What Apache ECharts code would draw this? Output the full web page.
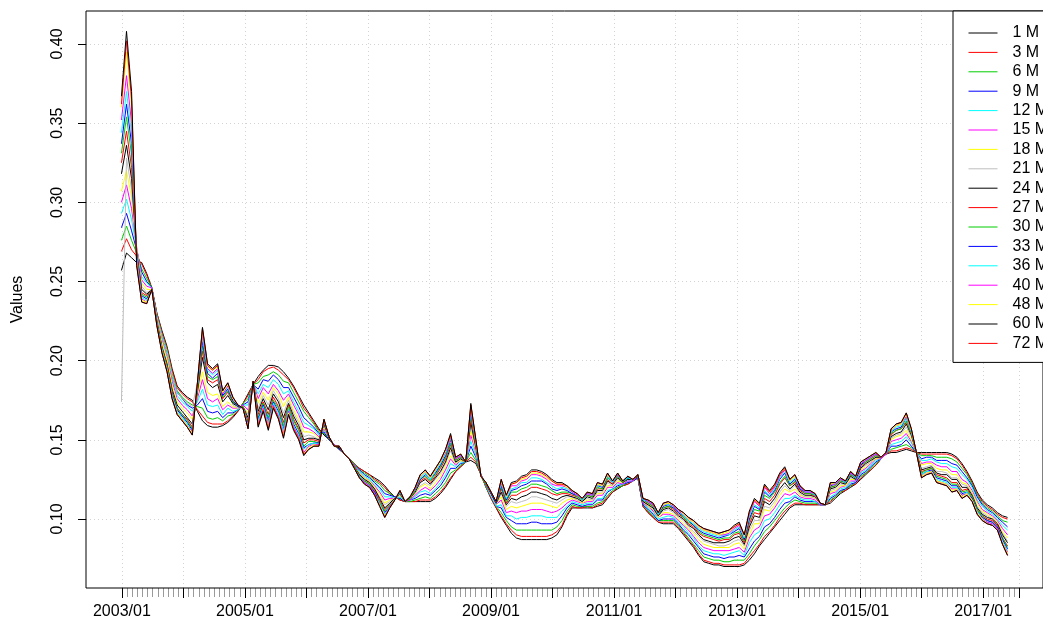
<!DOCTYPE html>
<html>
<head>
<meta charset="utf-8">
<script src="https://cdn.jsdelivr.net/npm/echarts@6.0.0/dist/echarts.min.js"></script>
<style>
html, body { margin: 0; padding: 0; background: #fff; }
#chart { width: 1043px; height: 625px; }
</style>
</head>
<body>
<div id="chart"></div>
<script>
// Monthly values from 2003/01 to 2017/08, stored in thousandths (one row per year).
const m1 = [
  257,268,265,262,262,255,246,230,219,209,195,184,
  180,177,175,168,162,159,158,158,159,161,164,168,
  173,179,185,190,194,197,197,196,193,189,184,178,
  172,167,162,157,153,150,147,144,141,138,135,132,
  130,128,126,124,121,117,114,112,111,111,111,111,
  111,111,113,116,120,125,130,133,136,137,135,128,
  120,113,107,101,96,91,88,87,87,87,87,87,
  87,88,90,95,102,107,107,107,107,107,108,109,
  113,117,119,121,122,124,126,108,104,101,98,97,
  97,97,94,90,86,82,77,73,72,71,71,70,
  70,70,70,71,74,78,83,87,91,95,99,103,
  107,109,109,109,109,109,109,109,110,113,116,118,
  120,122,125,128,131,134,138,141,142,142,143,144,
  143,142,142,142,142,142,142,142,141,139,135,130,
  124,117,112,109,107,104,102,101
];
const m3 = [
  269,277,270,266,261,254,246,230,218,208,194,183,
  179,176,174,169,165,161,160,160,160,162,165,168,
  173,178,185,188,193,195,196,194,191,188,183,177,
  170,166,161,156,154,150,147,144,141,138,135,132,
  130,128,125,123,120,116,114,112,111,111,111,112,
  112,112,114,117,121,126,130,133,136,139,136,128,
  120,113,107,102,97,93,90,89,89,89,89,89,
  89,90,92,96,103,108,107,107,108,107,109,110,
  114,117,120,121,122,124,126,108,104,101,98,98,
  98,98,95,91,87,83,78,74,73,72,72,71,
  71,71,71,72,76,80,84,89,92,96,101,105,
  108,110,110,109,109,109,109,109,111,114,117,118,
  121,122,126,129,131,134,138,141,143,143,144,145,
  144,142,141,141,141,141,141,141,140,138,134,129,
  123,116,111,108,106,103,101,100
];
const m6 = [
  276,285,276,268,258,252,246,229,217,207,192,181,
  177,174,172,171,170,164,163,164,162,165,166,169,
  173,176,185,186,190,191,193,191,187,186,180,174,
  168,164,160,155,154,150,147,144,141,138,135,131,
  129,127,124,122,118,116,114,113,111,111,112,113,
  114,113,116,119,123,129,131,134,136,142,137,128,
  120,114,108,104,99,95,93,93,93,93,93,93,
  93,93,95,99,105,109,108,108,108,108,110,111,
  115,118,120,121,123,124,126,109,105,102,99,99,
  99,99,96,92,88,84,80,76,75,74,74,73,
  73,74,74,74,78,83,87,92,95,99,103,107,
  110,112,111,110,110,110,109,109,112,114,117,119,
  121,123,127,129,132,135,138,141,144,145,146,147,
  145,142,140,140,140,139,139,139,138,136,132,128,
  122,115,110,107,105,102,99,98
];
const m9 = [
  284,293,282,270,256,250,246,228,216,205,190,180,
  176,172,170,172,176,168,167,168,164,167,167,169,
  172,174,185,182,188,187,191,188,183,183,177,171,
  164,161,158,154,155,150,147,144,141,138,134,131,
  128,126,123,120,116,115,114,113,111,112,113,115,
  116,115,118,121,126,132,132,135,136,146,139,128,
  121,114,108,107,101,99,97,97,97,98,98,97,
  97,97,98,102,107,110,109,108,109,109,112,112,
  117,119,121,122,123,124,126,109,106,103,99,100,
  100,100,97,93,90,86,82,78,77,76,76,75,
  76,76,77,76,81,86,89,95,97,101,106,110,
  111,114,112,111,111,111,109,109,113,115,118,119,
  122,123,128,130,133,136,138,141,146,146,147,150,
  146,142,138,139,139,137,137,137,135,134,130,126,
  121,114,109,106,104,101,98,95
];
const m12 = [
  293,302,289,271,253,249,246,227,214,204,189,178,
  174,171,168,174,182,172,171,172,166,170,168,169,
  172,172,186,179,185,183,188,185,179,181,174,168,
  161,159,157,153,156,151,147,145,141,138,134,130,
  127,125,122,119,114,114,113,114,111,112,114,117,
  118,116,119,123,128,135,133,136,136,149,140,128,
  121,114,108,109,102,102,100,101,101,102,102,102,
  101,101,101,105,108,111,110,109,110,110,113,113,
  118,119,122,122,124,124,127,110,107,104,100,101,
  102,101,98,95,91,88,83,80,79,78,78,77,
  78,79,80,77,85,90,92,99,100,104,109,113,
  113,115,113,112,112,111,109,109,114,116,119,120,
  123,124,129,131,134,137,138,141,147,148,149,152,
  148,142,137,137,138,136,135,135,133,132,128,125,
  120,112,108,105,103,100,96,93
];
const m15 = [
  300,311,296,272,251,247,246,226,213,202,187,176,
  172,169,165,176,188,176,174,176,169,172,170,170,
  172,169,186,176,183,179,185,181,175,179,172,166,
  158,157,155,152,157,151,147,145,141,138,134,129,
  126,124,121,117,112,113,113,115,111,112,115,118,
  120,118,121,125,131,138,134,137,136,153,142,128,
  121,115,109,112,104,105,104,105,105,106,106,106,
  105,104,105,107,110,112,111,110,111,111,115,115,
  120,120,123,122,124,124,127,110,108,105,101,103,
  103,102,99,96,93,89,85,82,81,80,80,80,
  80,81,82,79,88,93,95,102,103,107,112,116,
  115,117,114,113,113,112,109,109,116,117,120,121,
  124,124,130,132,135,138,138,141,149,150,151,154,
  149,142,135,136,136,134,133,133,130,130,125,123,
  118,111,106,104,102,99,94,90
];
const m18 = [
  307,320,303,271,249,245,245,226,212,201,185,174,
  170,167,163,178,193,180,178,179,171,174,171,170,
  171,167,186,173,180,175,183,179,171,177,169,163,
  155,155,154,151,158,151,146,145,141,138,133,129,
  126,124,120,116,110,112,113,115,111,113,116,120,
  122,119,123,127,133,140,135,137,136,156,143,127,
  122,115,109,114,106,108,107,108,109,110,110,110,
  109,108,107,110,112,113,112,110,112,112,116,116,
  121,121,124,123,125,125,127,111,108,106,101,104,
  104,103,100,97,94,91,87,84,83,82,82,82,
  82,84,85,81,90,97,97,106,105,109,115,119,
  117,119,115,114,114,113,110,109,117,118,121,121,
  125,125,131,133,136,138,139,142,150,152,153,156,
  150,142,134,135,135,132,131,131,128,128,123,122,
  117,110,105,103,101,98,92,88
];
const m21 = [
  174,328,308,270,247,243,245,228,216,206,191,180,
  176,173,171,186,221,198,195,198,181,186,172,170,
  171,166,186,170,178,172,181,176,167,175,167,161,
  152,153,152,150,159,151,146,145,141,138,133,128,
  125,123,119,114,109,111,113,116,111,113,116,121,
  123,121,125,129,135,143,135,138,136,159,144,127,
  122,115,109,116,108,111,110,111,112,114,114,113,
  112,111,110,112,114,114,112,111,113,112,117,117,
  123,121,125,123,125,125,127,111,109,106,102,105,
  106,104,101,99,95,92,89,86,85,84,83,83,
  84,86,87,83,93,99,99,108,107,111,117,121,
  118,121,116,114,114,113,110,109,118,119,122,122,
  126,125,132,134,136,139,139,142,151,153,154,158,
  152,142,132,133,134,130,130,129,126,126,122,121,
  116,108,104,102,100,97,91,86
];
const m24 = [
  318,336,315,269,245,242,245,225,209,198,182,172,
  168,164,160,180,202,186,183,185,174,178,173,171,
  171,164,186,168,176,169,179,174,164,173,165,159,
  150,151,151,150,160,151,146,145,141,138,133,128,
  125,123,119,113,107,110,113,116,111,113,117,123,
  125,122,126,130,136,145,136,138,136,161,145,127,
  122,116,110,117,109,113,112,114,115,117,117,116,
  115,113,112,114,115,114,113,111,114,113,118,118,
  124,122,126,123,125,125,127,111,109,107,102,106,
  107,105,102,100,96,94,90,87,86,85,85,85,
  86,88,89,84,95,102,101,111,109,113,119,123,
  119,122,117,115,115,114,110,109,119,120,123,122,
  127,125,132,135,137,139,139,142,152,154,155,160,
  153,142,131,132,133,129,128,128,125,125,120,120,
  115,107,103,101,100,97,90,85
];
const m27 = [
  325,345,322,268,243,241,245,224,208,197,181,170,
  166,163,158,182,206,188,186,188,176,180,174,171,
  171,162,187,166,174,166,177,171,161,172,163,157,
  148,150,150,149,161,152,146,146,141,138,133,127,
  124,122,118,112,106,109,112,117,111,113,118,124,
  126,123,127,132,138,147,137,139,136,164,146,127,
  122,116,110,119,110,115,115,117,118,120,120,119,
  118,116,115,116,116,115,114,112,115,114,119,119,
  125,122,127,123,126,125,128,112,110,108,103,107,
  108,106,103,101,97,95,91,89,88,87,86,87,
  87,90,91,85,97,104,103,113,111,115,122,126,
  121,123,118,116,116,114,110,109,120,121,124,123,
  128,126,133,136,138,140,139,142,153,156,157,161,
  154,142,130,131,132,128,127,126,123,123,118,119,
  114,106,102,100,99,96,88,83
];
const m30 = [
  331,354,330,267,242,240,245,224,208,196,180,170,
  166,162,157,182,209,190,188,190,177,181,174,171,
  171,161,187,164,173,164,175,170,159,171,162,156,
  146,149,149,148,161,152,146,146,141,138,133,127,
  124,122,117,111,105,109,112,117,111,113,118,125,
  127,124,128,133,139,148,137,139,136,166,147,127,
  122,116,110,120,111,117,117,119,120,122,122,121,
  120,118,116,117,117,116,114,112,115,114,120,119,
  126,123,127,123,126,125,128,112,110,108,103,107,
  108,107,104,101,98,96,92,90,89,88,87,88,
  88,91,92,86,99,106,105,115,113,117,123,127,
  121,124,119,116,116,115,110,109,120,121,124,123,
  128,126,134,136,138,140,139,142,154,156,157,162,
  154,142,129,131,132,127,126,125,122,122,117,118,
  114,106,102,99,98,95,88,82
];
const m33 = [
  337,362,337,266,241,239,245,223,207,195,179,169,
  165,161,156,183,212,192,189,192,178,182,175,171,
  170,160,187,163,172,162,174,168,157,169,160,154,
  145,147,148,148,162,152,146,146,141,138,132,127,
  123,121,117,110,104,108,112,117,111,114,119,125,
  128,125,129,134,140,150,138,140,136,168,148,127,
  123,116,110,121,112,118,119,121,122,124,124,124,
  122,119,118,119,118,116,115,112,116,115,121,120,
  127,123,128,124,126,125,128,112,111,109,103,108,
  109,107,104,102,99,96,93,91,90,89,88,89,
  90,92,94,87,100,108,106,117,114,118,125,129,
  122,125,119,117,117,115,110,109,121,122,125,123,
  129,126,134,137,139,141,139,142,155,157,158,164,
  155,142,128,130,131,126,125,124,121,121,116,117,
  113,105,101,99,98,95,87,81
];
const m36 = [
  344,370,343,265,240,238,245,223,207,195,178,168,
  164,160,155,184,215,194,191,194,179,183,176,172,
  170,159,187,162,171,161,173,167,156,169,159,153,
  144,147,148,147,162,152,146,146,141,138,132,127,
  123,121,116,110,103,108,112,117,111,114,119,126,
  129,125,130,135,141,151,138,140,136,169,148,127,
  123,117,111,122,113,119,120,123,123,126,126,125,
  123,121,119,120,119,117,115,112,116,115,121,121,
  127,123,128,124,126,125,128,112,111,109,103,109,
  109,108,105,102,99,97,94,92,91,90,89,90,
  90,93,95,88,102,109,107,118,115,119,126,130,
  123,126,120,117,117,115,110,109,122,122,125,123,
  129,126,135,137,139,141,139,142,155,158,159,164,
  155,142,128,130,130,125,124,123,120,120,115,117,
  112,105,100,98,97,94,86,80
];
const m40 = [
  352,380,350,264,239,237,245,223,206,194,177,167,
  163,159,155,185,217,195,192,195,179,184,176,172,
  170,159,187,160,170,159,172,165,154,168,158,152,
  142,146,147,147,162,152,146,146,141,138,132,126,
  123,121,116,109,102,108,112,118,111,114,119,127,
  130,126,131,136,142,152,138,140,136,170,149,127,
  123,117,111,123,114,121,121,124,125,128,128,127,
  125,122,121,121,120,117,115,113,116,115,122,121,
  128,124,128,124,127,125,128,113,111,109,104,109,
  110,108,105,103,100,98,95,93,92,91,90,90,
  91,94,96,89,103,111,108,120,116,120,127,131,
  124,127,120,117,117,116,110,109,122,122,125,124,
  129,127,135,137,139,141,139,142,156,159,160,165,
  156,142,127,129,130,124,123,122,119,119,115,116,
  112,104,100,98,97,94,85,79
];
const m48 = [
  360,395,360,262,238,237,245,222,206,194,177,167,
  163,159,154,185,219,196,194,196,180,185,176,172,
  170,158,187,159,169,158,171,164,153,167,157,151,
  141,145,147,146,163,152,146,146,141,138,132,126,
  122,120,115,109,102,107,112,118,111,114,120,127,
  130,126,131,136,143,153,139,141,136,172,149,127,
  123,117,111,124,114,122,123,125,126,129,129,128,
  126,124,122,122,120,118,116,113,117,116,122,121,
  128,124,129,124,127,125,128,113,112,110,104,109,
  110,109,106,103,100,98,95,93,92,91,90,91,
  92,95,97,89,104,112,109,121,117,121,128,132,
  124,127,121,118,118,116,110,109,122,123,126,124,
  130,127,136,138,140,142,139,142,156,159,160,166,
  156,142,127,129,130,124,123,122,118,119,114,116,
  112,104,100,97,96,93,85,78
];
const m60 = [
  367,408,370,260,237,236,245,222,205,193,176,166,
  162,158,153,186,221,198,195,198,181,186,177,172,
  170,157,187,158,168,156,170,163,151,166,156,150,
  140,144,146,146,163,152,146,146,141,138,132,126,
  122,120,115,108,101,107,112,118,111,114,120,128,
  131,127,132,137,144,154,139,141,136,173,150,127,
  123,117,111,125,115,123,124,127,128,131,131,130,
  128,125,123,123,121,118,116,113,117,116,123,122,
  129,124,129,124,127,125,128,113,112,110,104,110,
  111,109,106,104,101,99,96,94,93,92,91,92,
  93,96,98,90,105,113,110,122,118,122,129,133,
  125,128,121,118,118,116,110,109,123,123,126,124,
  130,127,136,138,140,142,139,142,157,160,161,167,
  157,142,126,128,129,123,122,121,117,118,113,115,
  111,103,99,97,96,93,84,77
];
const m72 = [
  362,402,365,261,237,236,245,222,205,193,176,166,
  162,158,153,186,220,197,194,197,181,186,177,172,
  170,157,187,159,169,157,171,164,152,166,157,151,
  141,144,146,146,163,152,146,146,141,138,132,126,
  122,120,115,108,101,107,112,118,111,114,120,128,
  131,127,132,137,144,153,139,141,136,172,150,127,
  123,117,111,125,115,122,123,126,127,130,130,129,
  127,124,122,122,121,118,116,113,117,116,123,122,
  129,124,129,124,127,125,128,113,112,110,104,110,
  111,109,106,104,101,99,96,94,93,92,91,92,
  93,95,97,90,104,112,109,121,117,121,128,132,
  125,128,121,118,118,116,110,109,123,123,126,124,
  130,127,136,138,140,142,139,142,157,160,161,167,
  157,142,126,128,129,123,122,121,117,118,113,115,
  111,103,99,97,96,93,84,77
];

const seriesNames = ['1 M','3 M','6 M','9 M','12 M','15 M','18 M','21 M','24 M',
                     '27 M','30 M','33 M','36 M','40 M','48 M','60 M','72 M'];
const seriesValues = [m1, m3, m6, m9, m12, m15, m18, m21, m24,
                      m27, m30, m33, m36, m40, m48, m60, m72];
const seriesColors = ['#000000','#FF0000','#00CD00','#0000FF','#00FFFF','#FF00FF','#FFFF00','#BEBEBE',
                      '#000000','#FF0000','#00CD00','#0000FF','#00FFFF','#FF00FF','#FFFF00',
                      '#000000','#FF0000'];
const yTickValues = [0.10, 0.15, 0.20, 0.25, 0.30, 0.35, 0.40];

// month labels 2003/01 .. 2017/08
const startYear = 2003;
const nMonths = m1.length;
const months = [];
for (let i = 0; i < nMonths; i++) {
  const y = startYear + Math.floor(i / 12);
  const m = (i % 12) + 1;
  months.push(y + '/' + (m < 10 ? '0' + m : m));
}

// plot region and 4% padding of the data range on both axes
const BOX = { left: 86, top: 11, width: 969, height: 577 };
const xPad = 7;
const xMin = -xPad, xMax = nMonths - 1 + xPad;
const yLo = yTickValues[0], yHi = yTickValues[yTickValues.length - 1];
const yTopPx = 44, yBotPx = 519;
const pxPerUnit = (yBotPx - yTopPx) / (yHi - yLo);
const yMin = yLo - (BOX.top + BOX.height - yBotPx) / pxPerUnit;
const yMax = yHi + (yTopPx - BOX.top) / pxPerUnit;
const pxPerMonth = BOX.width / (xMax - xMin);
const firstX = BOX.left + (0 - xMin) * pxPerMonth;
const spanX = (nMonths - 1) * pxPerMonth;

const FONT = 'Liberation Sans, Arial, Helvetica, sans-serif';
const dotted = { color: '#D3D3D3', width: 1, type: [1, 3] };

const series = seriesValues.map((vals, k) => ({
  name: seriesNames[k],
  type: 'line',
  xAxisIndex: 0,
  yAxisIndex: 0,
  data: vals.map((v, i) => [i, v / 1000]),
  symbol: 'none',
  showSymbol: false,
  smooth: false,
  z: seriesNames[k] === '60 M' ? 4 : 3,
  lineStyle: { color: seriesColors[k], width: 1 },
  itemStyle: { color: seriesColors[k] },
  emphasis: { disabled: true },
  animation: false
}));

const chart = echarts.init(document.getElementById('chart'), null, { renderer: 'canvas' });
chart.setOption({
  backgroundColor: '#ffffff',
  animation: false,
  textStyle: { fontFamily: FONT },
  grid: [
    { left: BOX.left, top: BOX.top, width: BOX.width, height: BOX.height,
      show: true, borderColor: '#000', borderWidth: 1, backgroundColor: 'transparent', z: 5 },
    { left: BOX.left, top: yTopPx, width: BOX.width, height: yBotPx - yTopPx },
    { left: firstX, top: BOX.top, width: spanX, height: BOX.height }
  ],
  xAxis: [
    { type: 'value', gridIndex: 0, min: xMin, max: xMax, show: false },
    { type: 'value', gridIndex: 1, min: 0, max: 1, show: false },
    { type: 'value', gridIndex: 2, min: 0, max: nMonths - 1, interval: 12,
      position: 'bottom',
      axisLine: { show: false },
      axisTick: { show: true, length: 10, lineStyle: { color: '#000', width: 1 } },
      minorTick: { show: true, splitNumber: 12, length: 9, lineStyle: { color: '#9a9a9a', width: 1 } },
      axisLabel: {
        show: true, margin: 16, color: '#000', fontSize: 16, fontFamily: FONT,
        showMinLabel: true, showMaxLabel: false,
        formatter: (v) => (v % 24 === 0 ? months[v] : '')
      },
      splitLine: { show: true, lineStyle: dotted },
      minorSplitLine: { show: false }
    }
  ],
  yAxis: [
    { type: 'value', gridIndex: 0, min: yMin, max: yMax,
      name: 'Values', nameLocation: 'middle', nameGap: 60, nameRotate: 90,
      nameTextStyle: { fontSize: 16, color: '#000', fontFamily: FONT },
      axisLine: { show: false }, axisTick: { show: false }, axisLabel: { show: false },
      splitLine: { show: false } },
    { type: 'value', gridIndex: 1, min: yLo, max: yHi, interval: 0.05,
      position: 'left',
      axisLine: { show: false },
      axisTick: { show: true, length: 8, lineStyle: { color: '#000', width: 1 } },
      axisLabel: { show: true, rotate: 90, margin: 20, color: '#000', fontSize: 16, fontFamily: FONT,
        formatter: (v) => v.toFixed(2) },
      splitLine: { show: true, lineStyle: dotted } },
    { type: 'value', gridIndex: 2, min: 0, max: 1, show: false }
  ],
  legend: {
    show: true,
    data: seriesNames,
    orient: 'vertical',
    left: 953, top: BOX.top,
    padding: [14, 40, 11, 15],
    itemWidth: 29, itemHeight: 14, itemGap: 3.4,
    backgroundColor: '#ffffff',
    borderColor: '#000', borderWidth: 1,
    selectedMode: false,
    z: 10,
    itemStyle: { opacity: 0 },
    lineStyle: { width: 1 },
    textStyle: { fontSize: 16, color: '#000', fontFamily: FONT, padding: [0, 0, 0, 10] }
  },
  series: series
});
</script>
</body>
</html>
